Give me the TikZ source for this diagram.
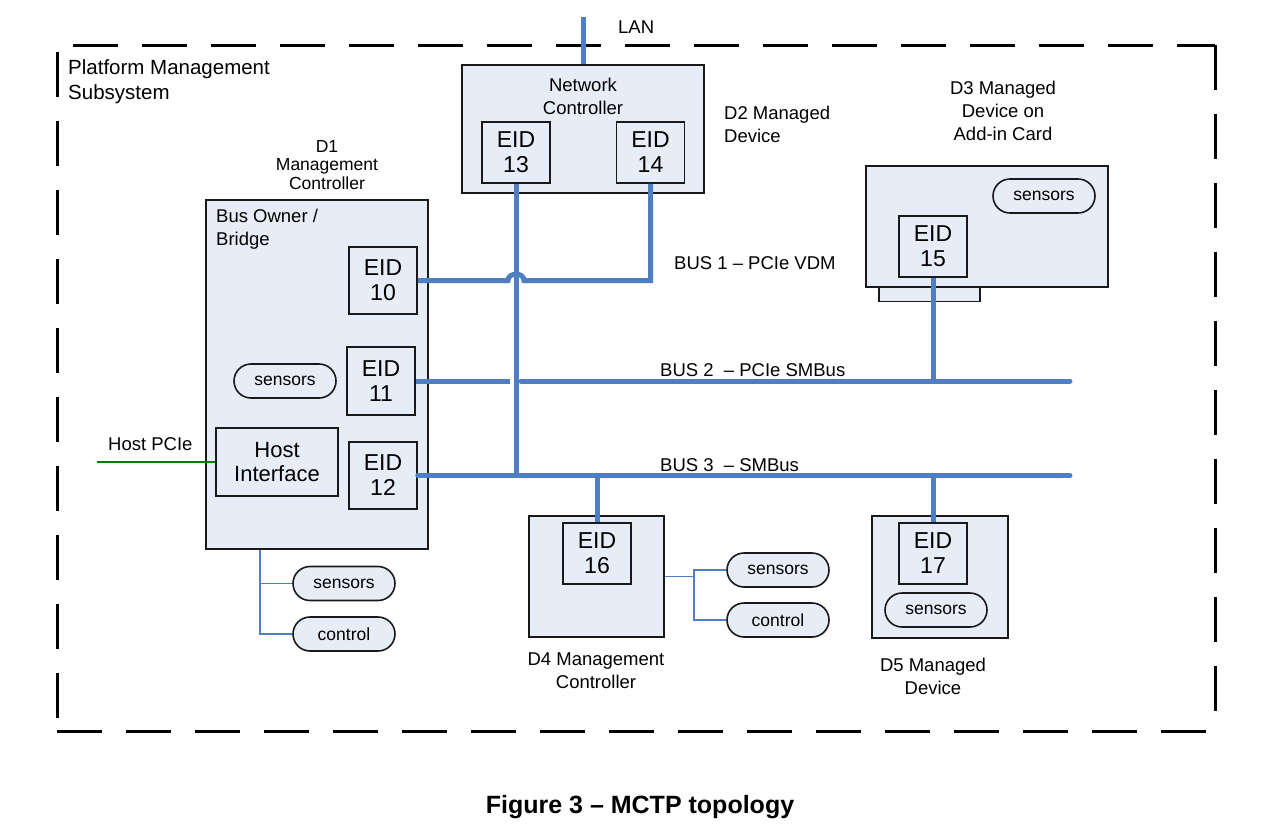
\documentclass[tikz,border=0pt]{standalone}
\usepackage{fontspec}
\setmainfont{Liberation Sans}
\definecolor{boxfill}{RGB}{231,237,247}
\definecolor{busblue}{RGB}{79,127,194}
\definecolor{hostgreen}{RGB}{0,128,0}
\begin{document}
\begin{tikzpicture}[x=1pt,y=-1pt,
  box/.style={draw=black!90, line width=1.6pt, fill=boxfill, inner sep=0pt},
  eid/.style={box, minimum width=68pt, minimum height=61pt, align=center, font=\fontsize{23}{25}\selectfont},
  pill/.style={draw=black!90, line width=1.6pt, fill=boxfill, rounded corners=17pt, minimum width=102pt, minimum height=34pt, inner sep=0pt, font=\fontsize{17.5}{20}\selectfont},
  lbl/.style={font=\fontsize{18.5}{23}\selectfont, align=center, inner sep=0pt},
  lbll/.style={font=\fontsize{18.5}{23}\selectfont, align=left, inner sep=0pt},
  bus/.style={draw=busblue, line width=5pt},
  wire/.style={draw=busblue, line width=1.8pt},
  border/.style={line width=3pt, dash pattern=on 45pt off 24pt}
]
\useasboundingbox (0,0) rectangle (1281,831);

% subsystem border
\draw[border] (73,45) -- (1215,45);
\draw[border] (57,52) -- (57,731);
\draw[border] (57,731) -- (1215,731);
\draw[border] (1215,45) -- (1215,731);
\node[lbll, font=\fontsize{20.5}{25}\selectfont, anchor=north west] (pms) at (68,59) {Platform Management\\Subsystem};

% D2 network controller
\node[box, minimum width=242pt, minimum height=128pt] (net) at (583,129) {};
\node[lbl] (netl) at (583,96.5) {Network\\Controller};
\node[eid] (eid13) at (516,152.5) {EID\\13};
\node[eid] (eid14) at (650.5,152.5) {EID\\14};
\node[lbll, anchor=west] (d2l) at (724,124.5) {D2 Managed\\Device};
\coordinate (lan) at (583,17);
\node[lbl, anchor=west] (lanl) at (618,27) {LAN};

% D1 management controller
\node[lbl, font=\fontsize{17.5}{18.5}\selectfont] (d1l) at (327,165) {D1\\Management\\Controller};
\node[box, minimum width=222pt, minimum height=349pt] (d1) at (317,374.5) {};
\node[lbll, anchor=north west] (bob) at (216,209) {Bus Owner /\\Bridge};
\node[eid, minimum height=67pt] (eid10) at (383,280.5) {EID\\10};
\node[eid, minimum height=68pt] (eid11) at (381,381) {EID\\11};
\node[eid, minimum height=67pt] (eid12) at (383,475.5) {EID\\12};
\node[pill] (s1) at (285,381) {sensors};
\node[box, minimum width=122pt, minimum height=68pt, align=center, font=\fontsize{22}{24}\selectfont] (hostif) at (277,462) {Host\\Interface};
\coordinate (hpc) at (97,462);
\node[lbl, anchor=west] (hpcl) at (108,444) {Host PCIe};
\node[pill] (s1b) at (344,583.5) {sensors};
\node[pill] (c1) at (344,634) {control};
\coordinate (j1) at (260,0);

% D3 add-in card
\node[lbl] (d3l) at (1003,111) {D3 Managed\\Device on\\Add-in Card};
\node[box, minimum width=101pt, minimum height=15pt] (tab) at (929.5,294) {};
\node[box, minimum width=242pt, minimum height=121pt] (d3) at (987,226.5) {};
\node[eid] (eid15) at (933,246.5) {EID\\15};
\node[pill] (s3) at (1044,196) {sensors};

% D4
\node[box, minimum width=135pt, minimum height=121pt] (d4) at (596.5,576.5) {};
\node[eid] (eid16) at (597,553.5) {EID\\16};
\node[lbl] (d4l) at (596,670.5) {D4 Management\\Controller};
\node[pill] (s4) at (778,570) {sensors};
\node[pill] (c4) at (778,620) {control};
\coordinate (j4) at (694,0);

% D5
\node[box, minimum width=136pt, minimum height=122pt] (d5) at (940,577) {};
\node[eid] (eid17) at (933,553.5) {EID\\17};
\node[pill] (s5) at (936,610) {sensors};
\node[lbl] (d5l) at (933,676.5) {D5 Managed\\Device};

% buses
\coordinate (hopL) at (508,280.5);
\coordinate (hopR) at (524,280.5);
\coordinate (b2gapL) at (510,381);
\coordinate (b2gapR) at (521,381);
\coordinate (b2end) at (1070,381);
\coordinate (b3end) at (1070,475.5);

\draw[bus] (lan) -- (net.north);
\draw[bus] (eid10.east) -- (hopL) .. controls (508,272) and (524,272) .. (hopR) -- (eid14.south |- eid10.east) -- (eid14.south);
\draw[bus] (eid13.south) -- (eid13.south |- eid12.east);
\draw[bus] (eid11.east) -- (b2gapL);
\draw[bus, line cap=round] (b2gapR) -- (b2end);
\draw[bus, line cap=round] (eid12.east) -- (b3end);
\draw[bus] (eid15.south) -- (eid15.south |- b2end);
\draw[bus] (eid16.north) -- (eid16.north |- b3end);
\draw[bus] (eid17.north) -- (eid17.north |- b3end);

\node[lbl, anchor=west] (b1l) at (674,263) {BUS 1 – PCIe VDM};
\node[lbl, anchor=west] (b2l) at (660,370) {BUS 2\ \ – PCIe SMBus};
\node[lbl, anchor=west] (b3l) at (660,465) {BUS 3\ \ – SMBus};

% host PCIe
\draw[draw=hostgreen, line width=2.6pt] (hpc) -- (hostif.west);

% thin wires
\draw[wire] (d1.south -| j1) |- (c1.west);
\draw[wire] (s1b.west -| j1) -- (s1b.west);
\draw[wire] (d4.east) -- (d4.east -| j4);
\draw[wire] (s4.west) -| (c4.west -| j4) -- (c4.west);

% caption
\node[font=\fontsize{25}{30}\selectfont\bfseries, inner sep=0pt] (cap) at (640,807) {Figure 3 – MCTP topology};
\end{tikzpicture}
\end{document}
